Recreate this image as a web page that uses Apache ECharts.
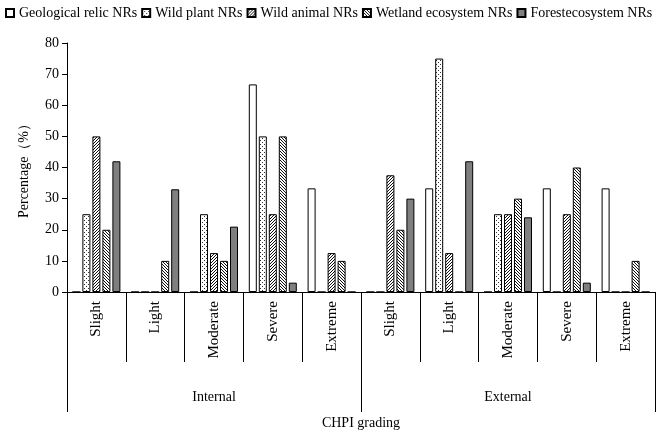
<!DOCTYPE html>
<html>
<head>
<meta charset="utf-8">
<script src="https://cdn.jsdelivr.net/npm/echarts@6/dist/echarts.min.js"></script>
<style>
  html, body {margin: 0; padding: 0; background: #fff;}
  #chart {width: 666px; height: 436px;}
</style>
</head>
<body>
<div id="chart"></div>
<script>
const grades = ['Slight', 'Light', 'Moderate', 'Severe', 'Extreme', 'Slight', 'Light', 'Moderate', 'Severe', 'Extreme']
const groups = ['Internal', 'External']
const seriesNames = ['Geological relic NRs', 'Wild plant NRs', 'Wild animal NRs', 'Wetland ecosystem NRs', 'Forestecosystem NRs']
const geological = [0, 0, 0, 66.7, 33.3, 0, 33.3, 0, 33.3, 33.3]
const wildPlant = [25, 0, 25, 50, 0, 0, 75, 25, 0, 0]
const wildAnimal = [50, 0, 12.5, 25, 12.5, 37.5, 12.5, 25, 25, 0]
const wetland = [20, 10, 10, 50, 10, 20, 0, 30, 40, 10]
const forest = [42, 33, 21, 3, 0, 30, 42, 24, 3, 0]

const font = 'Liberation Serif'

// small tiled canvases for the fills
function pattern(size, pixels, ink) {
  const c = document.createElement('canvas')
  c.width = size
  c.height = size
  const ctx = c.getContext('2d')
  ctx.fillStyle = '#fff'
  ctx.fillRect(0, 0, size, size)
  ctx.fillStyle = ink
  pixels.forEach(([x, y]) => ctx.fillRect(x, y, 1, 1))
  return {image: c, repeat: 'repeat'}
}
const fills = [
  '#fff',
  pattern(4, [[0, 0], [2, 2]], '#333'),
  pattern(3, [[2, 0], [1, 1], [0, 2]], '#111'),
  pattern(3, [[0, 0], [1, 1], [2, 2]], '#111'),
  '#7f7f7f'
]
const values = [geological, wildPlant, wildAnimal, wetland, forest]

const myChart = echarts.init(document.getElementById('chart'))
myChart.setOption({
  animation: false,
  textStyle: {fontFamily: font, color: '#000'},
  legend: {
    left: 5,
    top: 6,
    padding: 0,
    itemWidth: 8,
    itemHeight: 8,
    itemGap: 4,
    icon: 'rect',
    textStyle: {fontFamily: font, fontSize: 14, color: '#000'},
    data: seriesNames
  },
  grid: {left: 67, right: 11, top: 43, bottom: 144},
  xAxis: [
    {
      type: 'category',
      data: grades,
      axisLine: {lineStyle: {color: '#000', width: 1}},
      axisTick: {show: true, interval: 0, length: 70, lineStyle: {color: '#000'}},
      axisLabel: {interval: 0, rotate: 90, margin: 9, fontFamily: font, fontSize: 15, color: '#000'}
    },
    {
      type: 'category',
      data: groups,
      position: 'bottom',
      axisLine: {show: false},
      axisTick: {show: true, interval: 0, length: 120, lineStyle: {color: '#000'}},
      axisLabel: {interval: 0, margin: 98, fontFamily: font, fontSize: 14, color: '#000'},
      name: 'CHPI grading',
      nameLocation: 'middle',
      nameGap: 124,
      nameTextStyle: {fontFamily: font, fontSize: 14, color: '#000'}
    }
  ],
  yAxis: {
    type: 'value',
    min: 0,
    max: 80,
    interval: 10,
    name: 'Percentage（%）',
    nameLocation: 'middle',
    nameRotate: 90,
    nameGap: 36,
    nameTextStyle: {fontFamily: font, fontSize: 14, color: '#000'},
    axisLine: {show: true, lineStyle: {color: '#000'}},
    axisTick: {show: true, length: 5, lineStyle: {color: '#000'}},
    splitLine: {show: false},
    axisLabel: {fontFamily: font, fontSize: 14, color: '#000', margin: 8}
  },
  series: seriesNames.map((name, i) => ({
    name,
    type: 'bar',
    xAxisIndex: 0,
    data: values[i],
    barWidth: 8,
    barGap: '25%',
    itemStyle: {color: fills[i], borderColor: '#000', borderWidth: 1}
  }))
})
</script>
</body>
</html>
